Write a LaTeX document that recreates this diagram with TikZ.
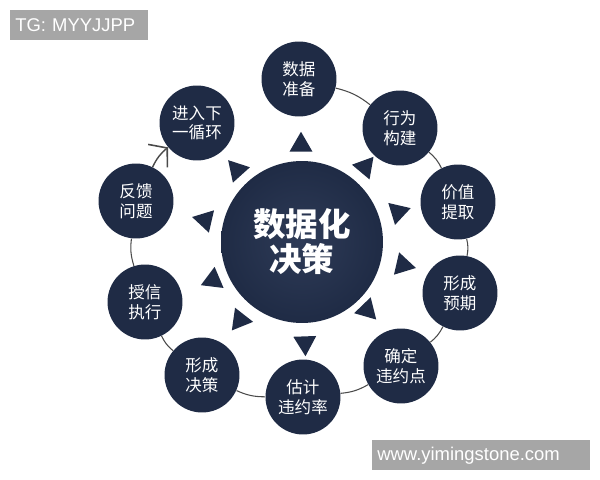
\documentclass[tikz,border=0pt]{standalone}
\usepackage{fontspec}
\setmainfont{Liberation Sans}
\newfontfamily\cjk{Noto Sans CJK SC}
\usetikzlibrary{arrows.meta,shapes.geometric}
\definecolor{navy}{HTML}{1F2B45}
\definecolor{navylight}{HTML}{2E3B57}
\definecolor{ring}{HTML}{4A4A4A}
\definecolor{mark}{HTML}{A6A6A6}
\begin{document}
\begin{tikzpicture}[x=0.02cm,y=-0.02cm,
    stage/.style={circle,fill=navy,minimum size=1.5cm,inner sep=0pt,text=white,
      align=center,font=\cjk\fontsize{9.4}{11.2}\selectfont},
    hub/.style={circle,inner color=navylight,outer color=navy,minimum size=3.24cm,
      inner sep=0pt,text=white,align=center,font=\cjk\bfseries\fontsize{18.5}{20}\selectfont},
    tri/.style={regular polygon,regular polygon sides=3,fill=navy,minimum size=0.53cm,inner sep=0pt},
    link/.style={draw=ring,line width=0.6pt},
    tag/.style={fill=mark,text=white,font=\fontsize{10.5}{12}\selectfont,
      inner xsep=0.1cm,minimum height=0.6cm,align=left}]
  \useasboundingbox (0,0) rectangle (600,480);

  % centre and pointers
  \node[hub] (hub) at (302,242) {数据化\\决策};
  \foreach \x/\y/\a [count=\i] in {301/145/90,365/167/50,398/212/17,403/265/-13,367/310/-46,
      305/343/-88,240/320/-128,213/280/-157,205/220/167,237/170/132}
    \node[tri,rotate=\a-90] (t\i) at (\x,\y) {};

  % the cycle
  \node[stage] (prep) at (299,79) {数据\\准备};
  \node[stage] (build) at (400,128) {行为\\构建};
  \node[stage] (value) at (458,202) {价值\\提取};
  \node[stage] (expect) at (460,293) {形成\\预期};
  \node[stage] (point) at (401,366) {确定\\违约点};
  \node[stage] (rate) at (303,397) {估计\\违约率};
  \node[stage] (decide) at (202,375) {形成\\决策};
  \node[stage] (exec) at (145,302) {授信\\执行};
  \node[stage] (feed) at (136,201) {反馈\\问题};
  \node[stage] (next) at (197,123) {进入下\\一循环};

  \draw[link] (prep) to[bend left=12] (build);
  \draw[link] (build) to[bend left=12] (value);
  \draw[link] (value) to[bend left=12] (expect);
  \draw[link] (expect) to[bend left=12] (point);
  \draw[link] (point) to[bend left=12] (rate);
  \draw[link] (rate) to[bend left=12] (decide);
  \draw[link] (decide) to[bend left=12] (exec);
  \draw[link] (exec) to[bend left=12] (feed);
  \draw[link,line width=0.8pt,-{Straight Barb[length=7pt,width=17pt,line width=0.9pt]}]
    (feed) to[bend left=12] (next);

  % watermarks
  \node[tag,anchor=north west,text width=2.56cm] (tg) at (10,10) {TG: MYYJJPP};
  \node[tag,anchor=north west,text width=4.16cm] (site) at (372,440) {www.yimingstone.com};
\end{tikzpicture}
\end{document}
